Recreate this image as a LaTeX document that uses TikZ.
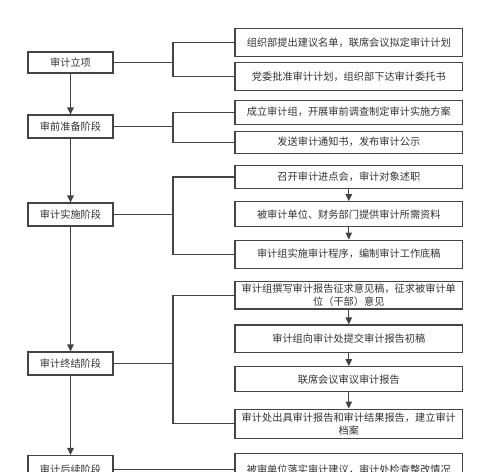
\documentclass[tikz,border=0pt]{standalone}
\usepackage{fontspec}
\setmainfont{Noto Sans CJK SC}
\usetikzlibrary{arrows.meta}
\definecolor{lc}{HTML}{444444}
\definecolor{tc}{HTML}{333333}
\tikzset{
  base/.style={draw=lc, line width=1.1pt, fill=white, inner sep=0pt, text=tc,
    font=\fontsize{10.2pt}{13pt}\selectfont, align=center},
  lbox/.style={base, minimum width=85pt},
  rbox/.style={base, minimum width=227.7pt},
  conn/.style={draw=lc, line width=1.1pt},
  arr/.style={conn, -{Triangle[width=6.5pt,length=7pt]}},
}
\begin{document}
\begin{tikzpicture}[x=1pt,y=-1pt]
\useasboundingbox (0,0) rectangle (500,471);
\fill[white] (0,0) rectangle (500,471);
\begin{scope}
\clip (0,0) rectangle (500,471);
% left column
\node[lbox, minimum height=21pt] (L1) at (70.5,62.5) {审计立项};
\node[lbox, minimum height=23pt] (L2) at (70.5,126.5) {审前准备阶段};
\node[lbox, minimum height=23pt] (L3) at (70.5,214.5) {审计实施阶段};
\node[lbox, minimum height=23pt] (L4) at (70.5,363.5) {审计终结阶段};
\node[lbox, minimum height=28pt] (L5) at (70.5,469.5) {审计后续阶段};
% right column
\node[rbox, minimum height=28.4pt] (R1) at (348.8,42.5) {组织部提出建议名单，联席会议拟定审计计划};
\node[rbox, minimum height=28pt] (R2) at (348.8,76.7) {党委批准审计计划，组织部下达审计委托书};
\node[rbox, minimum height=24.3pt] (R3) at (348.8,112.2) {成立审计组，开展审前调查制定审计实施方案};
\node[rbox, minimum height=22.3pt] (R4) at (348.8,142.2) {发送审计通知书，发布审计公示};
\node[rbox, minimum height=22.6pt] (R5) at (348.8,177) {召开审计进点会，审计对象述职};
\node[rbox, minimum height=25pt] (R6) at (348.8,214.2) {被审计单位、财务部门提供审计所需资料};
\node[rbox, minimum height=28.3pt] (R7) at (348.8,254.2) {审计组实施审计程序，编制审计工作底稿};
\node[rbox, minimum height=27.3pt] (R8) at (348.8,295.3) {审计组撰写审计报告征求意见稿，征求被审计单\\位（干部）意见};
\node[rbox, minimum height=27.3pt] (R9) at (348.8,338.6) {审计组向审计处提交审计报告初稿};
\node[rbox, minimum height=25pt] (R10) at (348.8,379.2) {联席会议审议审计报告};
\node[rbox, minimum height=29.3pt] (R11) at (348.8,423.7) {审计处出具审计报告和审计结果报告，建立审计\\档案};
\node[rbox, minimum height=32pt] (R12) at (348.8,469.5) {被审单位落实审计建议，审计处检查整改情况};
% main flow
\draw[arr] (L1) -- (L2);
\draw[arr] (L2) -- (L3);
\draw[arr] (L3) -- (L4);
\draw[arr] (L4) -- (L5);
% branches
\coordinate (B1) at (173,62.5);
\coordinate (B2) at (173,126.5);
\coordinate (B3) at (173,214.5);
\coordinate (B4) at (173,363.5);
\draw[conn] (L1.east) -- (B1);
\draw[conn] (B1) |- (R1.west);
\draw[conn] (B1) |- (R2.west);
\draw[conn] (L2.east) -- (B2);
\draw[conn] (B2) |- (R3.west);
\draw[conn] (B2) |- (R4.west);
\draw[conn] (L3.east) -- (B3);
\draw[conn] (B3) |- (R5.west);
\draw[conn] (B3) |- (R7.west);
\draw[conn] (L4.east) -- (B4);
\draw[conn] (B4) |- (R8.west);
\draw[conn] (B4) |- (R11.west);
\draw[conn] (L5.east) -- (R12.west);
% sub flows
\draw[arr] (R5) -- (R6);
\draw[arr] (R6) -- (R7);
\draw[arr] (R8) -- (R9);
\draw[arr] (R9) -- (R10);
\draw[arr] (R10) -- (R11);
\end{scope}
\end{tikzpicture}
\end{document}
